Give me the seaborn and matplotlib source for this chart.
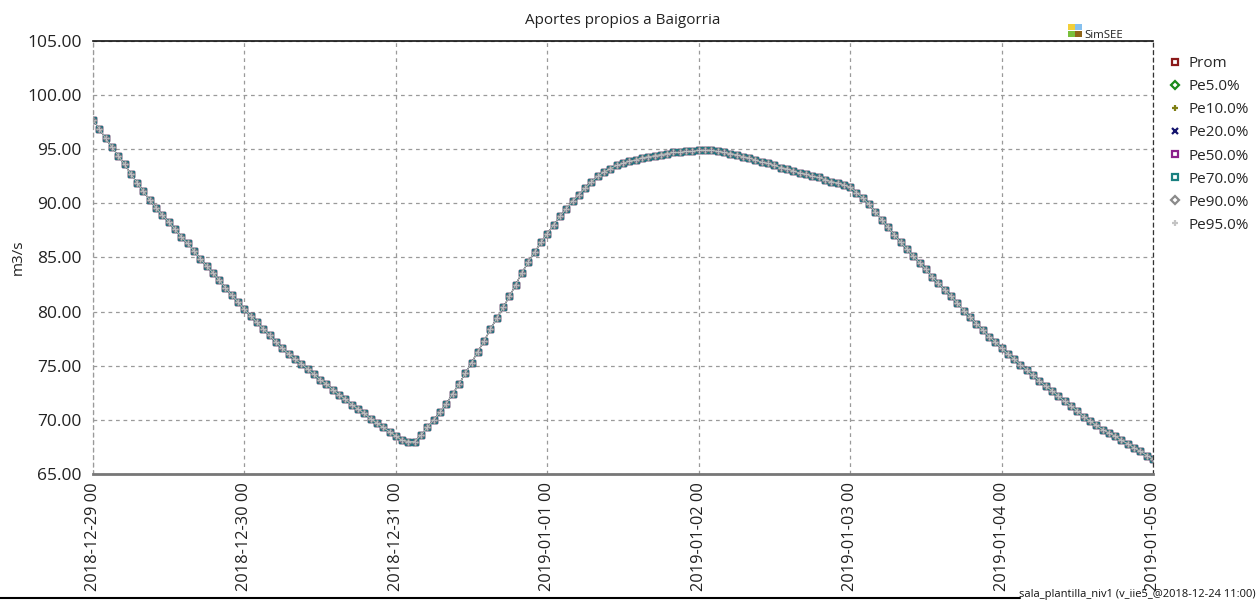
import numpy as np
import pandas as pd
import matplotlib
matplotlib.use("Agg")
import matplotlib.pyplot as plt
import matplotlib.dates as mdates
from matplotlib.lines import Line2D
from matplotlib.patches import Rectangle
import seaborn as sns

# Hourly inflow (m3/s) from 2018-12-29 00:00 to 2019-01-05 00:00
caudal = [
    97.7, 96.9, 96.0, 95.2, 94.4, 93.6, 92.7, 91.9, 91.1, 90.3,
    89.6, 88.9, 88.3, 87.6, 86.9, 86.3, 85.6, 84.9, 84.2, 83.6,
    82.9, 82.2, 81.5, 80.9, 80.2, 79.6, 79.0, 78.4, 77.8, 77.2,
    76.6, 76.1, 75.6, 75.2, 74.7, 74.2, 73.7, 73.3, 72.8, 72.3,
    71.9, 71.4, 71.0, 70.6, 70.1, 69.7, 69.3, 68.9, 68.5, 68.1,
    68.0, 68.0, 68.6, 69.3, 70.0, 70.7, 71.5, 72.4, 73.3, 74.3,
    75.3, 76.3, 77.3, 78.4, 79.4, 80.4, 81.4, 82.5, 83.6, 84.6,
    85.5, 86.4, 87.2, 88.0, 88.8, 89.5, 90.2, 90.8, 91.4, 92.0,
    92.5, 92.9, 93.2, 93.5, 93.7, 93.9, 94.0, 94.2, 94.3, 94.4,
    94.5, 94.6, 94.7, 94.7, 94.8, 94.8, 94.9, 94.9, 94.9, 94.8,
    94.7, 94.6, 94.5, 94.3, 94.2, 94.0, 93.8, 93.7, 93.5, 93.3,
    93.2, 93.0, 92.8, 92.7, 92.5, 92.4, 92.2, 92.0, 91.9, 91.7,
    91.5, 91.0, 90.5, 89.9, 89.2, 88.5, 87.8, 87.1, 86.4, 85.8,
    85.1, 84.5, 83.9, 83.2, 82.6, 82.0, 81.4, 80.8, 80.1, 79.5,
    78.9, 78.3, 77.7, 77.2, 76.6, 76.1, 75.6, 75.1, 74.6, 74.1,
    73.6, 73.1, 72.7, 72.2, 71.7, 71.3, 70.8, 70.3, 69.9, 69.5,
    69.1, 68.8, 68.5, 68.1, 67.8, 67.4, 67.1, 66.7, 66.4,
]

# The average and every percentile coincide for this run
series_names = ["Prom", "Pe5.0%", "Pe10.0%", "Pe20.0%", "Pe50.0%",
                "Pe70.0%", "Pe90.0%", "Pe95.0%"]
series_colors = ["#8b1a1a", "#1a8a1a", "#7f7f14", "#14146e", "#8b1f8b",
                 "#1a8080", "#8a8a8a", "#c4c4c4"]
series_markers = ["s", "D", "+", "x", "s", "s", "D", "+"]
series_values = {name: caudal for name in series_names}

inicio = pd.Timestamp("2018-12-29 00:00")
fin = pd.Timestamp("2019-01-05 00:00")
fechas = pd.date_range(inicio, periods=len(caudal), freq="h")

sns.set_theme(style="white")
plt.rcParams["font.family"] = ["Open Sans", "DejaVu Sans"]

fig = plt.figure(figsize=(12.58, 6.01), dpi=100)
ax = fig.add_axes([93 / 1258, 1 - 474 / 601, (1153 - 93) / 1258, (474 - 41) / 601])


def marker_size(mk, base):
    return base * 0.8 if mk == "D" else base


for name, col, mk in zip(series_names, series_colors, series_markers):
    df = pd.DataFrame({"fecha": fechas, "valor": series_values[name]})
    hollow = mk in ("s", "D")
    sns.lineplot(data=df, x="fecha", y="valor", ax=ax, color=col,
                 linewidth=0.6, alpha=0.9, marker=mk,
                 markersize=marker_size(mk, 3.8),
                 markerfacecolor="none" if hollow else col,
                 markeredgecolor=col, markeredgewidth=1.0, legend=False)

ax.set_xlim(inicio, fin)
ax.set_ylim(65, 105)
ax.set_yticks(np.arange(65, 105.1, 5))
ax.yaxis.set_major_formatter(matplotlib.ticker.FormatStrFormatter("%.2f"))
ax.xaxis.set_major_locator(mdates.DayLocator())
ax.xaxis.set_major_formatter(mdates.DateFormatter("%Y-%m-%d %H"))
plt.setp(ax.get_xticklabels(), rotation=90, ha="center", va="top")
ax.tick_params(axis="y", labelsize=12.5, colors="#222222", length=0, pad=8)
ax.tick_params(axis="x", labelsize=11.8, colors="#222222", length=0, pad=6)

ax.grid(True, color="#9a9a9a", linestyle=(0, (3, 3)), linewidth=0.9)
ax.set_xlabel("")
ax.set_ylabel("m3/s", fontsize=11, color="#222222", labelpad=1)
ax.set_title("Aportes propios a Baigorria", fontsize=11, color="#222222", pad=12)

for side, spine in ax.spines.items():
    spine.set_visible(True)
ax.spines["top"].set_color("#111111")
ax.spines["top"].set_linewidth(1.2)
ax.spines["bottom"].set_color("#777777")
ax.spines["bottom"].set_linewidth(2.0)
ax.spines["left"].set_color("#9a9a9a")
ax.spines["left"].set_linestyle((0, (3, 3)))
ax.spines["left"].set_linewidth(0.9)
ax.spines["right"].set_color("#333333")
ax.spines["right"].set_linestyle((0, (3, 3)))
ax.spines["right"].set_linewidth(0.9)

# Legend to the right of the plot area
handles = [Line2D([], [], linestyle="none", marker=mk, color=col,
                  markersize=marker_size(mk, 4.8), markeredgewidth=1.6,
                  markerfacecolor="none" if mk in ("s", "D") else col)
           for col, mk in zip(series_colors, series_markers)]
fig.legend(handles, series_names, loc="upper left",
           bbox_to_anchor=(1163 / 1258, 1 - 50 / 601), frameon=False,
           fontsize=11, handlelength=0.8, handletextpad=0.5,
           labelspacing=0.53, borderaxespad=0)

# SimSEE badge above the top right corner
logo = [("#f2cf3a", 0, 1), ("#86c0ee", 1, 1), ("#79bf3c", 0, 0), ("#8f6418", 1, 0)]
for color, cx, cy in logo:
    fig.patches.append(Rectangle(((1068 + cx * 7) / 1258, 1 - (37 - cy * 7) / 601),
                                 6.5 / 1258, 6.5 / 601, transform=fig.transFigure,
                                 facecolor=color, edgecolor="none"))
fig.text(1084 / 1258, 1 - 38 / 601, "SimSEE", fontsize=8.2, color="#222222",
         ha="left", va="baseline")

# Footer line and run tag
fig.add_artist(Line2D([0, 1020 / 1258], [1 - 598 / 601] * 2, color="black",
                      linewidth=1.5, transform=fig.transFigure))
fig.text(1256 / 1258, 1 - 597 / 601, "sala_plantilla_niv1 (v_iie5_@2018-12-24 11:00)",
         fontsize=8, color="#111111", ha="right", va="baseline")

fig.savefig("out.png", dpi=100, facecolor="white")
